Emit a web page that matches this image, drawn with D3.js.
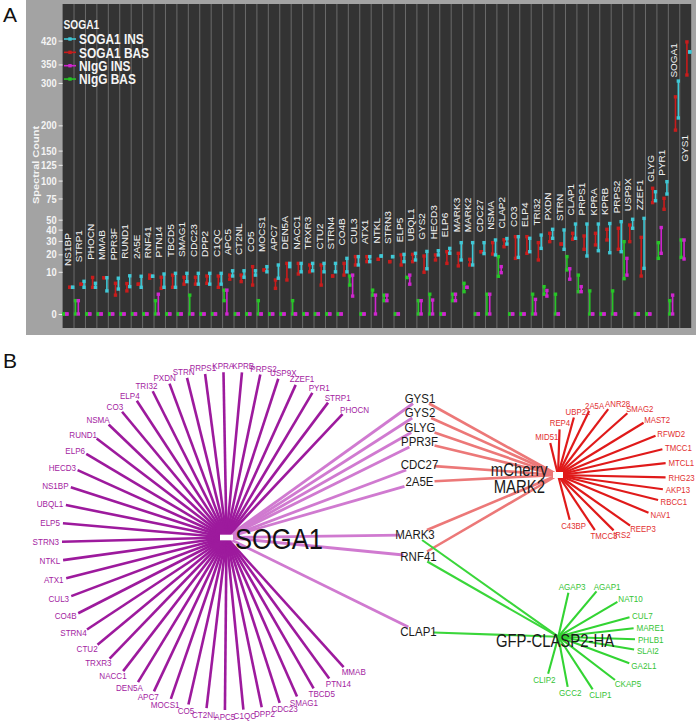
<!DOCTYPE html>
<html><head><meta charset="utf-8">
<script src="https://cdn.jsdelivr.net/npm/d3@7"></script>
<style>
body{margin:0;background:#fff;}
svg{display:block;font-family:Arial,"Liberation Sans",Helvetica,sans-serif;}
</style>
</head><body>
<svg id="c" width="696" height="725"></svg>
<script>
// ---------------- DATA : panel A ----------------
const categories = ["NS1BP","STRP1","PHOCN","MMAB","PPR3F","RUND1","2A5E","RNF41","PTN14","TBCD5",
  "SMAG1","CDC23","DPP2","C1QC","APC5","CT2NL","CO5","MOCS1","APC7","DEN5A",
  "NACC1","TRXR3","CTU2","STRN4","CO4B","CUL3","ATX1","NTKL","STRN3","ELP5",
  "UBQL1","GYS2","HECD3","ELP6","MARK3","MARK2","CDC27","NSMA","CLAP2","CO3",
  "ELP4","TRI32","PXDN","STRN","CLAP1","PRPS1","KPRA","KPRB","PRPS2","USP9X",
  "ZZEF1","GLYG","PYR1","SOGA1","GYS1"];
// SOGA1 INS (cyan)
const insLo = [4,4,4,3,3.5,4.2,4,8,4,4, 5.9,5,5,5,8.1,7.6,8.5,10,7.2,12.6, 10,10.5,10,10,10,13.5,15.4,18.9,18.5,15.4,
  16.4,11.5,19.6,20.7,16.4,13.5,20.5,19.6,27.5,18, 21.8,24.2,32.2,23.5,32.2,18.9,22.5,21.1,21.8,41.3, 11.7,72.1,80.9,216,386];
const insHi = [4,6,5.3,7.4,7.2,8.2,8,8,9,9.3, 9.3,9.3,9.3,9.3,10.5,10.5,10.5,12.6,13.5,14.4, 14.4,14.4,14.4,14.4,17.4,18.5,18.5,18.9,18.5,20,
  20.7,22,22.5,24.2,28.6,28.6,28.6,30.8,32,33.6, 32.2,35,40.3,39.7,45.5,45.5,45.5,46,47.9,50.4, 51.4,84,98.4,305,386];
// SOGA1 BAS (red)
const basLo = [4,5,4,7.4,2,3,5,7.2,3.7,4, 5,5,5.3,4,6.8,5.9,4.7,10.9,3.7,6.5, 9,10,4.7,8.1,8.5,13.5,15.4,16.8,15.4,13.5,
  15.4,9.8,16.4,14.4,13,13.5,21.8,20.2,25.4,17.4, 20.7,16.4,29.4,27.5,31.4,23.5,26.8,30.8,23.5,29.4, 8.1,69.7,61.6,190,321];
const basHi = [4,5,7.5,7.4,5.3,5.2,5,8.5,7.6,8.5, 7.6,7.6,8.1,8.1,8.5,8.5,12.6,10.9,6.5,14.4, 14.4,13.5,13.5,8.1,14.4,18.5,18.5,16.8,15.4,19.6,
  20,18.9,19.6,21.8,20.7,16.8,21.8,28.6,31,33.6, 33.6,28.6,36.6,27.5,36.6,34.2,36.6,40.3,41.3,44.5, 33,88.8,75.2,265,416];
// NIgG INS (magenta)
const igInsLo = [0,0,0,0,0,0,0,0,0,0, 0,0,0,0,0,0,0,0,0,0, 0,0,0,0,0,1.8,0,0,1,0,
  5,0,0,0,1,4,0,0,9.6,0, 0,0,1.8,0,6.8,2.8,0,0,0,8.5, 0,0,20.7,0,17];
const igInsHi = [0,1,0,0,0,0,0,0,2.2,0, 0,0,0,0,3.2,0,0,0,0,0, 0,0,0,0,0,8.5,0,2,2,0,
  8.5,1,1.1,0,2.2,4,0,2.2,12.6,0, 0,1.2,3.1,0,11.5,4.2,0,0,0,17.4, 0,0,42,2,30.8];
// NIgG BAS (green)
const igBasLo = [0,0,0,0,0,0,0,0,0,0, 0,0,0,0,1,0,0,0,0,0, 0,0,0,0,0,4.7,0,2,1,0,
  7.5,0,0,0,1,2.8,0,0,8,0, 0,0,2.2,0,10.9,2.8,0,0,0,7, 0,0,17.4,0,18];
const igBasHi = [0,1,0,0,0,0,0,0,1,0, 0,2,0,0,3.2,0,0,1,0,0, 1,0,0,0,0,8.1,0,3.2,2,0,
  7.5,1,2.2,0,2.2,5.3,0,2.2,18.5,0, 0,2.2,4.2,2.2,18.5,8.5,3,0,3,29.4, 0,0,28.6,1,30.8];
const yTicks = [0,10,20,30,40,50,75,100,125,150,200,300,350,420];
const legendItems = ["SOGA1 INS","SOGA1 BAS","NIgG INS","NIgG BAS"];

// ---------------- DATA : panel B ----------------
const sogaFan = ["PHOCN","STRP1","PYR1","ZZEF1","USP9X","PRPS2","KPRB","KPRA","PRPS1","STRN",
  "PXDN","TRI32","ELP4","CO3","NSMA","RUND1","ELP6","HECD3","NS1BP","UBQL1",
  "ELP5","STRN3","NTKL","ATX1","CUL3","CO4B","STRN4","CTU2","TRXR3","NACC1",
  "DEN5A","APC7","MOCS1","CO5","CT2NL","APC5","C1QC","DPP2","CDC23","SMAG1",
  "TBCD5","PTN14","MMAB"];
const mark2Fan = ["MID51","REP4","UBP21","2A5A","ANR28","SMAG2","MAST2","RFWD2","TMCC1","MTCL1",
  "RHG23","AKP13","RBCC1","NAV1","REEP3","IRS2","TMCC3","C43BP"];
const mark2FanAngle = [-153.8,-138.2,-120.7,-105.1,-87,-68.5,-50.8,-34.1,-19.9,-6.4,6.9,18.4,29.5,44.5,65.7,81.9,99.6,125.4];
const claspFan = ["AGAP3","AGAP1","NAT10","CUL7","MARE1","PHLB1","SLAI2","GA2L1","CKAP5","CLIP1","GCC2","CLIP2"];
const claspFanAngle = [-109.4,-76.7,-49.6,-27.1,-13.6,-0.8,10.9,27.7,53.1,81.2,110.3,137.5];
const sharedNodes = ["GYS1","GYS2","GLYG","PPR3F","CDC27","2A5E","MARK3","RNF41","CLAP1"];
const sharedLayoutX = [420,420,420,419.5,419.5,419.5,415,418.5,418.5];
const sharedLayoutY = [28.5,43,57.5,72,95,112,165,186.5,262];
const mark2Shared = ["GYS1","GYS2","GLYG","PPR3F","CDC27","2A5E","MARK3","RNF41"];
const claspShared = ["MARK3","RNF41","CLAP1"];

// ---------------- DRAW ----------------
const svg = d3.select("#c");
const K = 0.85; // horizontal text compression of the figure

function ptext(g, str, x, y, opt) {
  const t = g.append("text").text(str)
    .attr("transform", `translate(${x},${y}) scale(${K},1)` + (opt.rot ? ` rotate(${opt.rot})` : ""))
    .attr("font-size", opt.size).attr("fill", opt.fill || "#000")
    .attr("font-weight", opt.bold ? "bold" : "normal")
    .attr("text-anchor", opt.anchor || "start")
    .attr("dominant-baseline", opt.base || "auto");
  return t;
}

// panel labels
svg.append("text").text("A").attr("x", 3).attr("y", 22).attr("font-size", 21).attr("fill", "#111");
svg.append("text").text("B").attr("x", 3).attr("y", 368).attr("font-size", 21).attr("fill", "#111");

// ===== Panel A =====
const gA = svg.append("g");
gA.append("rect").attr("x", 26).attr("y", 0).attr("width", 670).attr("height", 335).attr("fill", "#a3a3a3");
const plotL = 62.6, plotR = 691.2, plotT = 4, plotB = 328, zeroY = 314;
gA.append("rect").attr("x", plotL).attr("y", plotT).attr("width", plotR - plotL).attr("height", plotB - plotT).attr("fill", "#333333");

const x = d3.scaleBand().domain(categories).range([plotL, plotR]);
const y = d3.scaleSqrt().domain([0, 420]).range([zeroY, zeroY - 13.34 * Math.sqrt(420)]);
const bw = x.bandwidth();

categories.slice(1).forEach(c => {
  gA.append("line").attr("x1", x(c)).attr("x2", x(c)).attr("y1", plotT).attr("y2", plotB)
    .attr("stroke", "#6b6b6b").attr("stroke-width", 1);
});

// axis
const ax = gA.append("g").attr("transform", `translate(${plotL},0)`)
  .call(d3.axisLeft(y).tickValues(yTicks).tickSize(4).tickPadding(3));
ax.select(".domain").remove();
ax.selectAll(".tick line").attr("stroke", "#eeeeee");
ax.selectAll(".tick text").attr("fill", "#f4f4f4").attr("font-size", 11).attr("font-weight", "bold")
  .attr("font-family", "Arial, 'Liberation Sans', sans-serif")
  .attr("transform", `scale(${K},1)`).attr("x", -6 / K);
ptext(gA, "Spectral Count", 36, 165, {rot: -90, size: 11, bold: true, fill: "#f4f4f4", anchor: "middle", base: "central"});

const series = [
  {name: "NIgG BAS", lo: igBasLo, hi: igBasHi, color: "#26c526", off: 0.125},
  {name: "NIgG INS", lo: igInsLo, hi: igInsHi, color: "#cf25cf", off: 0.375},
  {name: "SOGA1 BAS", lo: basLo, hi: basHi, color: "#c81c1c", off: 0.625},
  {name: "SOGA1 INS", lo: insLo, hi: insHi, color: "#3fc8d6", off: 0.875}
];
series.forEach(s => {
  const g = gA.append("g");
  categories.forEach((c, i) => {
    const cx = x(c) + bw * s.off;
    const y1 = y(s.lo[i]), y2 = y(s.hi[i]);
    if (Math.abs(y1 - y2) > 0.5)
      g.append("line").attr("x1", cx).attr("x2", cx).attr("y1", y1).attr("y2", y2)
        .attr("stroke", s.color).attr("stroke-width", 1.6);
    g.append("rect").attr("x", cx - 1.7).attr("y", y1 - 1.7).attr("width", 3.4).attr("height", 3.4).attr("fill", s.color);
    g.append("rect").attr("x", cx - 1.7).attr("y", y2 - 1.7).attr("width", 3.4).attr("height", 3.4).attr("fill", s.color);
  });
});

// column labels (above the column's highest point; below it when there is no room)
categories.forEach((c, i) => {
  const mx = Math.max(insHi[i], basHi[i], igInsHi[i], igBasHi[i]);
  const mn = Math.min(insLo[i], basLo[i]);
  const cx = x(c) + bw / 2;
  const t = ptext(gA, c, cx, y(mx + 9), {rot: -90, size: 10, fill: "#f2f2f2", base: "central"});
  const len = t.node().getComputedTextLength();
  if (y(mx + 9) - len < 30) {
    t.attr("transform", `translate(${cx},${y(mn) + 60}) scale(${K},1) rotate(-90)`).attr("text-anchor", "end");
  }
});

// legend
const legColors = {"SOGA1 INS": "#3fc8d6", "SOGA1 BAS": "#c81c1c", "NIgG INS": "#cf25cf", "NIgG BAS": "#26c526"};
ptext(gA, "SOGA1", 63.5, 25, {size: 12, bold: true, fill: "#f4f4f4", base: "central"});
legendItems.forEach((n, i) => {
  const ly = 39 + i * 13.35;
  gA.append("line").attr("x1", 64).attr("x2", 76).attr("y1", ly).attr("y2", ly).attr("stroke", legColors[n]).attr("stroke-width", 1.6);
  gA.append("rect").attr("x", 68.3).attr("y", ly - 1.7).attr("width", 3.4).attr("height", 3.4).attr("fill", legColors[n]);
  ptext(gA, n, 79, ly + 0.5, {size: 14, bold: true, fill: "#f4f4f4", base: "central"});
});

// ===== Panel B =====
const gB = svg.append("g");
const xB = d3.scaleLinear().domain([0, 696]).range([0, 696]);
const yB = d3.scaleLinear().domain([0, 355]).range([370, 725]);
const hub = {
  SOGA1: {x: xB(226.5), y: yB(167.5)},
  MARK2: {x: xB(558), y: yB(105)},
  CLASP2: {x: xB(558.3), y: yB(266.7)}
};
const rad = Math.PI / 180;
const leaves = [];
// SOGA1 circular fan
const sC = {x: xB(231), y: yB(171), r: 169};
sogaFan.forEach((n, i) => {
  const a = (-48.7 - i * 6.264) * rad;
  leaves.push({name: n, hub: "SOGA1", x: sC.x + sC.r * Math.cos(a), y: sC.y + sC.r * Math.sin(a),
    stroke: "#9d1a9d", fill: "#a3239f", w: 2.6, size: 9.5});
});
const mC = {x: xB(605), y: yB(100), r: 61};
mark2Fan.forEach((n, i) => {
  const a = mark2FanAngle[i] * rad;
  leaves.push({name: n, hub: "MARK2", x: mC.x + mC.r * Math.cos(a), y: mC.y + mC.r * Math.sin(a),
    stroke: "#e01a1a", fill: "#e23030", w: 2.2, size: 9.2});
});
const cC = {x: xB(585), y: yB(270), r: 50};
claspFan.forEach((n, i) => {
  const a = claspFanAngle[i] * rad;
  leaves.push({name: n, hub: "CLASP2", x: cC.x + cC.r * Math.cos(a), y: cC.y + cC.r * Math.sin(a),
    stroke: "#33d433", fill: "#35c435", w: 2.1, size: 9.5});
});
const shared = {};
sharedNodes.forEach((n, i) => shared[n] = {x: xB(sharedLayoutX[i]), y: yB(sharedLayoutY[i])});

function clip(from, to, hw, hh) {
  const dx = from.x - to.x, dy = from.y - to.y;
  const t = Math.min(Math.abs(dx) > 1e-6 ? hw / Math.abs(dx) : 1e9, Math.abs(dy) > 1e-6 ? hh / Math.abs(dy) : 1e9);
  return {x: to.x + dx * t, y: to.y + dy * t};
}
// shared edges
const sharedEdges = [];
sharedNodes.forEach(n => sharedEdges.push({h: "SOGA1", n, stroke: "#d07ad0", w: 2.8}));
mark2Shared.forEach(n => sharedEdges.push({h: "MARK2", n, stroke: "#ec7878", w: 2.6}));
claspShared.forEach(n => sharedEdges.push({h: "CLASP2", n, stroke: "#3ad63a", w: 2.1}));
sharedEdges.forEach(e => {
  const p = clip(hub[e.h], shared[e.n], 15, 5);
  gB.append("line").attr("x1", hub[e.h].x).attr("y1", hub[e.h].y).attr("x2", p.x).attr("y2", p.y)
    .attr("stroke", e.stroke).attr("stroke-width", e.w);
});
// leaf edges
leaves.forEach(l => {
  gB.append("line").attr("x1", hub[l.hub].x).attr("y1", hub[l.hub].y).attr("x2", l.x).attr("y2", l.y)
    .attr("stroke", l.stroke).attr("stroke-width", l.w);
});
// hub markers
gB.append("rect").attr("x", hub.SOGA1.x - 6.5).attr("y", hub.SOGA1.y - 2.8).attr("width", 13).attr("height", 5.6).attr("fill", "#fff");
gB.append("rect").attr("x", hub.MARK2.x - 5).attr("y", hub.MARK2.y - 3).attr("width", 10).attr("height", 6).attr("fill", "#fff");

// leaf labels placed outward along the edge direction
leaves.forEach(l => {
  const h = hub[l.hub];
  const dx = l.x - h.x, dy = l.y - h.y, d = Math.hypot(dx, dy);
  const ux = dx / d, uy = dy / d;
  const t = ptext(gB, l.name, 0, 0, {size: l.size, fill: l.fill, anchor: "middle", base: "central"});
  const w = t.node().getComputedTextLength() * K;
  const cx = l.x + ux * (w / 2 + 3), cy = l.y + uy * (l.size * 0.36 + 3);
  t.attr("transform", `translate(${cx},${cy}) scale(${K},1)`);
});
// shared labels
sharedNodes.forEach(n => {
  ptext(gB, n, shared[n].x, shared[n].y, {size: 13.5, fill: "#1a1a1a", anchor: "middle", base: "central"});
});
// hub labels
ptext(gB, "SOGA1", hub.SOGA1.x + 8.5, hub.SOGA1.y + 1, {size: 30, fill: "#111", base: "central"});
ptext(gB, "mCherry", xB(519.3), yB(99.5), {size: 17.5, fill: "#1a1a1a", anchor: "middle", base: "central"});
ptext(gB, "MARK2", xB(519.3), yB(116.7), {size: 17.5, fill: "#1a1a1a", anchor: "middle", base: "central"});
ptext(gB, "GFP-CLASP2-HA", xB(555), yB(270.7), {size: 17.5, fill: "#1a1a1a", anchor: "middle", base: "central"});
</script>
</body></html>
